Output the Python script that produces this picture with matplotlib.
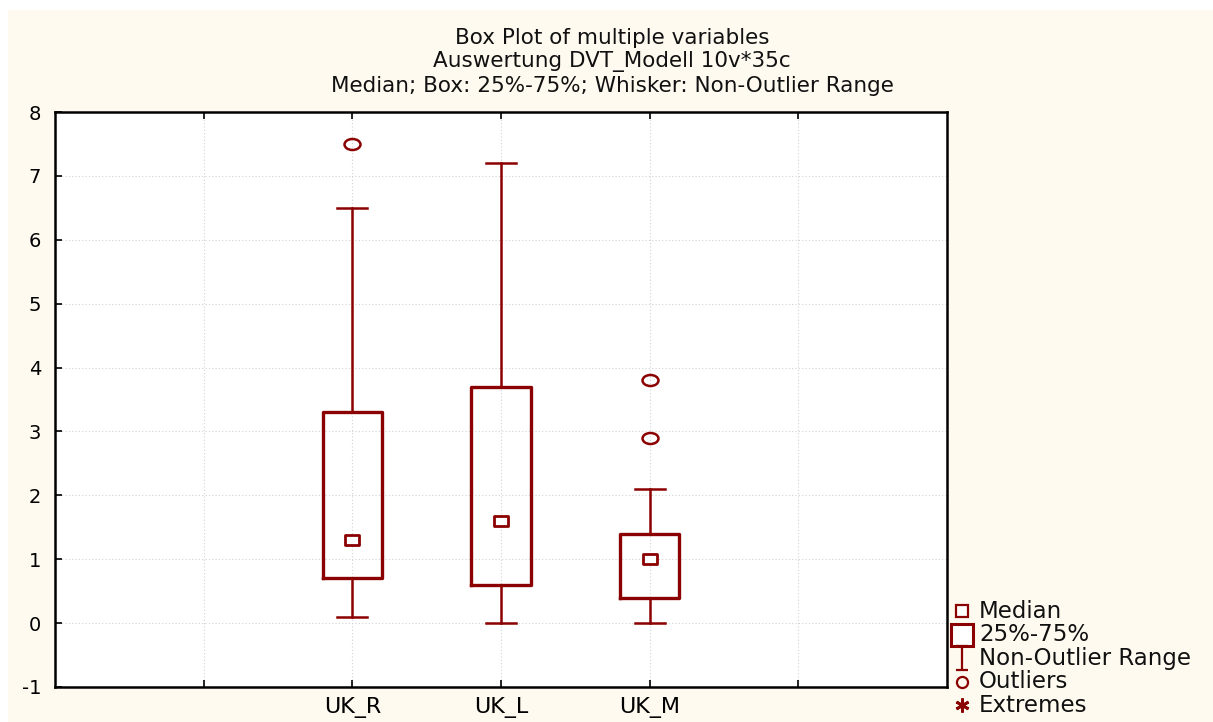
import matplotlib
matplotlib.use("Agg")
import matplotlib.pyplot as plt
from matplotlib.lines import Line2D
from matplotlib.patches import Rectangle
from matplotlib.path import Path
from matplotlib.transforms import Affine2D

# ---- data ----
categories = ["UK_R", "UK_L", "UK_M"]
whisker_low = [0.1, 0.0, 0.0]
q1 = [0.7, 0.6, 0.4]
median = [1.3, 1.6, 1.0]
q3 = [3.3, 3.7, 1.4]
whisker_high = [6.5, 7.2, 2.1]
outliers = [[7.5], [], [2.9, 3.8]]

y_ticks = [-1, 0, 1, 2, 3, 4, 5, 6, 7, 8]
title_lines = ["Box Plot of multiple variables",
               "Auswertung DVT_Modell 10v*35c",
               "Median; Box: 25%-75%; Whisker: Non-Outlier Range"]
legend_labels = ["Median", "25%-75%", "Non-Outlier Range", "Outliers", "Extremes"]

RED = "#8b0000"
CREAM = "#fefaf0"
FONT = ["DejaVu Sans"]
plt.rcParams["font.family"] = FONT

# slightly wide marker shapes
wide = Affine2D().scale(1.45, 1.0)
ellipse = Path.unit_circle().transformed(wide)
wide_square = Path([(-1, -1), (1, -1), (1, 1), (-1, 1), (-1, -1)],
                   [Path.MOVETO, Path.LINETO, Path.LINETO, Path.LINETO,
                    Path.CLOSEPOLY]).transformed(wide)

W, H = 1213, 722
fig = plt.figure(figsize=(W / 100, H / 100), dpi=100, facecolor="white")
fig.patches.append(Rectangle((8 / W, 0), 1, 1 - 10 / H, transform=fig.transFigure,
                             facecolor=CREAM, edgecolor="none", zorder=-10))

ax = fig.add_axes([55 / W, 35 / H, 892 / W, 575 / H])
ax.set_facecolor("white")

positions = [2, 3, 4]
stats = []
for i, name in enumerate(categories):
    stats.append(dict(label=name, whislo=whisker_low[i], q1=q1[i], med=median[i],
                      q3=q3[i], whishi=whisker_high[i], fliers=outliers[i]))

ax.bxp(stats, positions=positions, widths=0.4, showfliers=True,
       boxprops=dict(color=RED, linewidth=2.4),
       whiskerprops=dict(color=RED, linewidth=1.8),
       capprops=dict(color=RED, linewidth=1.8),
       medianprops=dict(linewidth=0),
       flierprops=dict(marker=ellipse, markersize=11.5, markerfacecolor="none",
                       markeredgecolor=RED, markeredgewidth=1.8),
       capwidths=0.2, manage_ticks=False, zorder=3)

# median markers
ax.plot(positions, median, linestyle="none", marker=wide_square, markersize=9.5,
        markerfacecolor="white", markeredgecolor=RED, markeredgewidth=2.0, zorder=4)

ax.set_xlim(0, 6)
ax.set_ylim(-1, 8)
ax.set_yticks(y_ticks)
ax.set_yticklabels([str(t) for t in y_ticks], fontsize=14)
ax.set_xticks([1, 2, 3, 4, 5])
ax.set_xticklabels([""] + categories + [""], fontsize=16)
ax.tick_params(axis="x", direction="in", top=True, length=5, width=1.2, pad=7)
ax.tick_params(axis="y", direction="in", length=5, width=1.2, pad=10)
ax.grid(True, linestyle=(0, (1, 2)), color="#d2d2d2", linewidth=0.8, zorder=0)
ax.set_axisbelow(True)
for s in ax.spines.values():
    s.set_color("black")
    s.set_linewidth(1.8)

# title block
for k, line in enumerate(title_lines):
    fig.text(612 / W, 1 - (37.5 + 24.5 * k) / H, line, ha="center", va="center",
             fontsize=15.5, color="#111111")

# legend
whisker_marker = Path([(-0.5, 1), (0.5, 1), (0, 1), (0, -1), (-0.5, -1), (0.5, -1)],
                      [Path.MOVETO, Path.LINETO, Path.MOVETO, Path.LINETO,
                       Path.MOVETO, Path.LINETO])
leg_markers = [
    dict(marker="s", markersize=8, markerfacecolor="white", markeredgewidth=1.6),
    dict(marker="s", markersize=16, markerfacecolor="white", markeredgewidth=2.2),
    dict(marker=whisker_marker, markersize=17, markeredgewidth=1.6),
    dict(marker="o", markersize=8, markerfacecolor="none", markeredgewidth=1.6),
    dict(marker=(6, 2, 0), markersize=10, markeredgewidth=2.0),
]
for k, (lab, mk) in enumerate(zip(legend_labels, leg_markers)):
    y = 1 - (611 + 23.5 * k) / H
    fig.add_artist(Line2D([962 / W], [y], transform=fig.transFigure, linestyle="none",
                          color=RED, markeredgecolor=RED, **mk))
    fig.text(979 / W, y, lab, ha="left", va="center", fontsize=16.5, color="#111111")

fig.savefig("out.png", dpi=100, facecolor="white")
